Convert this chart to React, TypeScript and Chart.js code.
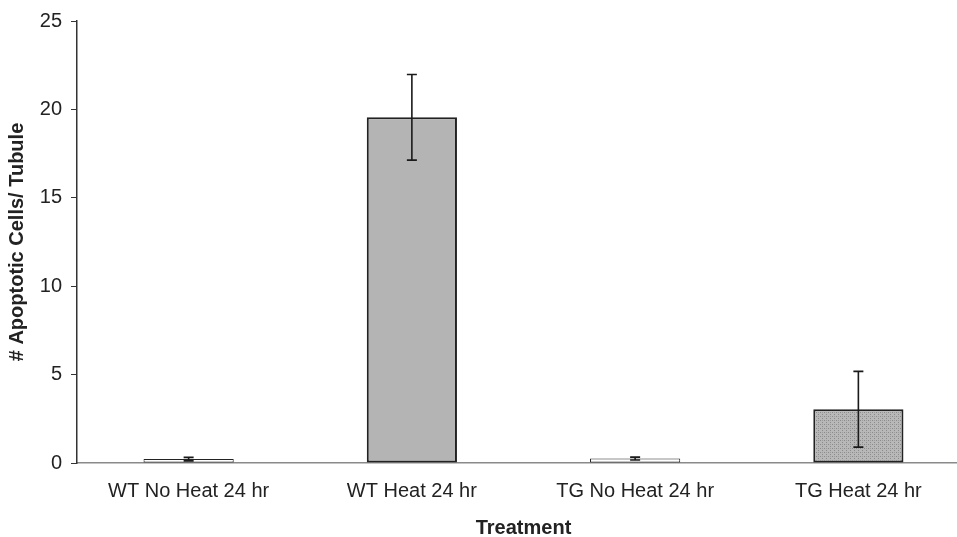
import React, { useEffect, useRef } from "react";
import { Chart, registerables } from "chart.js";

Chart.register(...registerables);

const categories = ["WT No Heat 24 hr", "WT Heat 24 hr", "TG No Heat 24 hr", "TG Heat 24 hr"];
const values = [0.22, 19.55, 0.25, 3.04];
const errors = [0.1, 2.42, 0.08, 2.14];
const yTicks = [0, 5, 10, 15, 20, 25];

const FONT = "'Liberation Sans', Arial, sans-serif";

function makeStipple(): CanvasPattern | string {
  const c = document.createElement("canvas");
  c.width = 4;
  c.height = 4;
  const g = c.getContext("2d");
  if (!g) return "#aaaaaa";
  g.fillStyle = "#b8b8b8";
  g.fillRect(0, 0, 4, 4);
  g.fillStyle = "#8a8a8a";
  g.fillRect(0, 0, 1, 1);
  g.fillRect(2, 2, 1, 1);
  g.fillStyle = "#9c9c9c";
  g.fillRect(2, 0, 1, 1);
  const p = g.createPattern(c, "repeat");
  return p || "#aaaaaa";
}

const errorBarPlugin = {
  id: "errorBars",
  afterDatasetsDraw(chart: any) {
    const ctx = chart.ctx;
    const meta = chart.getDatasetMeta(0);
    const y = chart.scales.y;
    ctx.save();
    ctx.strokeStyle = "#1a1a1a";
    ctx.lineWidth = 1.6;
    meta.data.forEach((bar: any, i: number) => {
      const x = bar.x;
      const top = y.getPixelForValue(values[i] + errors[i]);
      const bot = y.getPixelForValue(values[i] - errors[i]);
      ctx.beginPath();
      ctx.moveTo(x, top);
      ctx.lineTo(x, bot);
      ctx.moveTo(x - 5, top);
      ctx.lineTo(x + 5, top);
      ctx.moveTo(x - 5, bot);
      ctx.lineTo(x + 5, bot);
      ctx.stroke();
    });
    ctx.restore();
  },
};

export default function App() {
  const ref = useRef<HTMLCanvasElement>(null);
  useEffect(() => {
    if (!ref.current) return;
    const stipple = makeStipple();
    const chart = new Chart(ref.current, {
      type: "bar",
      data: {
        labels: categories,
        datasets: [
          {
            data: values,
            backgroundColor: ["#ffffff", "#b4b4b4", "#ffffff", stipple as any],
            borderColor: "#222222",
            borderWidth: [1, 2, 1, 2],
            borderSkipped: false,
            barPercentage: 0.404,
            categoryPercentage: 1,
          },
        ],
      },
      options: {
        responsive: false,
        animation: false,
        layout: { padding: { top: 19, right: 0, bottom: 0, left: 0 } },
        plugins: { legend: { display: false }, tooltip: { enabled: false } },
        scales: {
          x: {
            grid: { display: false, drawTicks: false },
            border: { color: "#8a8a8a", width: 1.5 },
            ticks: {
              color: "#222",
              font: { family: FONT, size: 20 },
              padding: 16,
              maxRotation: 0,
            },
            title: {
              display: true,
              text: "Treatment",
              color: "#222",
              font: { family: FONT, size: 20, weight: "bold" },
              padding: { top: 0, bottom: -3 },
            },
            afterFit(s: any) {
              s.height = 74;
            },
          },
          y: {
            min: 0,
            max: 25,
            afterBuildTicks(s: any) {
              s.ticks = yTicks.map((v) => ({ value: v }));
            },
            grid: { drawOnChartArea: false, drawTicks: true, tickLength: 6, color: "#333" },
            border: { color: "#333", width: 1.5 },
            ticks: {
              color: "#222",
              font: { family: FONT, size: 20 },
              padding: 9,
            },
            title: {
              display: true,
              text: "# Apoptotic Cells/ Tubule",
              color: "#222",
              font: { family: FONT, size: 20, weight: "bold" },
              padding: { top: 5, bottom: 0 },
            },
            afterFit(s: any) {
              s.width = 77;
            },
          },
        },
      } as any,
      plugins: [errorBarPlugin],
    });
    return () => chart.destroy();
  }, []);
  return (
    <div
      style={{
        position: "fixed",
        left: 0,
        top: 0,
        width: 957,
        height: 537,
        overflow: "hidden",
        background: "#fff",
      }}
    >
      <canvas ref={ref} width={970} height={537} style={{ display: "block" }} />
    </div>
  );
}
